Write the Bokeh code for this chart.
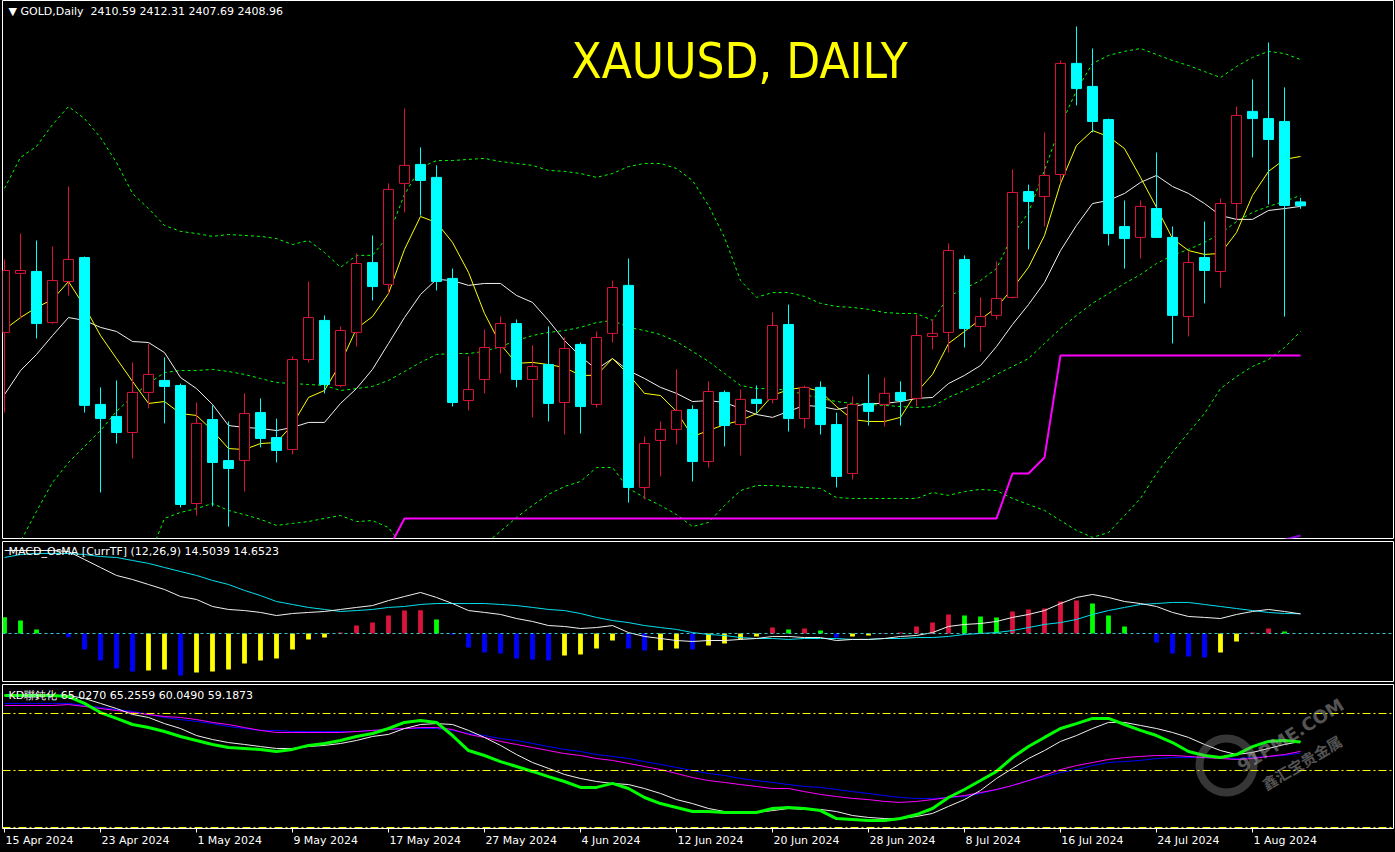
import numpy as np
import pandas as pd
from bokeh.plotting import figure
from bokeh.layouts import column
from bokeh.models import ColumnDataSource, Range1d, Label, FixedTicker, Span
from bokeh.embed import file_html
from bokeh.resources import INLINE

# ---------------- data ----------------
dates = pd.bdate_range("2024-04-15", "2024-08-06")          # 82 daily bars
tick_bars = [0, 6, 12, 18, 24, 30, 36, 42, 48, 54, 60, 66, 72, 78]
tick_labels = ["15 Apr 2024", "23 Apr 2024", "1 May 2024", "9 May 2024", "17 May 2024",
               "27 May 2024", "4 Jun 2024", "12 Jun 2024", "20 Jun 2024", "28 Jun 2024",
               "8 Jul 2024", "16 Jul 2024", "24 Jul 2024", "1 Aug 2024"]

opens = [2356.2, 2380.8, 2381.6, 2360.3, 2377.4, 2387.4, 2326.2, 2321.2, 2314.5, 2331.2,
         2336.2, 2334.1, 2284.9, 2319.9, 2302.8, 2302.8, 2322.8, 2312.4, 2307.4, 2344.9,
         2361.2, 2334.1, 2356.2, 2385.3, 2376.2, 2418.3, 2426.2, 2420.8, 2378.7, 2327.8,
         2336.6, 2349.9, 2359.9, 2336.6, 2342.8, 2327.0, 2351.2, 2326.2, 2355.8, 2375.8,
         2291.6, 2311.2, 2315.8, 2324.1, 2302.4, 2331.2, 2317.8, 2328.3, 2328.3, 2359.5,
         2320.3, 2333.3, 2317.8, 2297.4, 2326.6, 2326.2, 2331.2, 2328.7, 2354.5, 2356.2,
         2386.6, 2358.7, 2363.3, 2370.8, 2414.9, 2412.8, 2422.0, 2468.3, 2458.7, 2444.9,
         2400.3, 2395.8, 2407.8, 2395.8, 2362.8, 2387.4, 2381.6, 2409.9, 2448.3, 2445.3,
         2444.1, 2410.59]
highs = [2386.6, 2397.4, 2394.5, 2392.0, 2417.0, 2387.8, 2333.3, 2336.2, 2343.7, 2351.6,
         2345.8, 2334.9, 2327.0, 2325.8, 2319.1, 2330.8, 2328.7, 2320.3, 2346.2, 2377.4,
         2363.3, 2358.7, 2389.1, 2396.6, 2418.3, 2449.5, 2433.3, 2425.8, 2382.8, 2346.2,
         2357.4, 2362.8, 2361.6, 2350.8, 2358.7, 2354.1, 2352.0, 2356.6, 2377.8, 2387.0,
         2312.8, 2319.1, 2340.8, 2325.8, 2335.8, 2332.0, 2332.4, 2334.1, 2364.5, 2367.8,
         2334.0, 2335.8, 2322.8, 2329.5, 2338.7, 2337.4, 2335.8, 2363.7, 2361.6, 2393.3,
         2388.3, 2370.8, 2385.8, 2424.1, 2417.8, 2439.5, 2469.5, 2483.7, 2474.5, 2445.3,
         2411.2, 2411.2, 2431.2, 2400.3, 2389.9, 2402.4, 2412.0, 2450.3, 2461.6, 2477.0,
         2458.3, 2412.31]
lows = [2322.8, 2362.0, 2353.7, 2359.8, 2371.6, 2322.8, 2289.5, 2309.9, 2303.7, 2324.5,
        2318.3, 2283.3, 2279.9, 2283.7, 2275.3, 2289.9, 2308.3, 2302.0, 2305.3, 2343.7,
        2330.8, 2333.3, 2350.3, 2369.5, 2372.4, 2406.2, 2404.9, 2373.7, 2325.3, 2323.7,
        2330.8, 2339.1, 2333.3, 2320.8, 2319.1, 2313.7, 2314.1, 2324.9, 2352.0, 2285.3,
        2286.6, 2296.2, 2309.5, 2294.1, 2299.9, 2308.7, 2304.9, 2322.4, 2326.6, 2314.9,
        2316.2, 2313.7, 2291.6, 2294.9, 2317.4, 2317.0, 2317.4, 2325.3, 2349.1, 2347.8,
        2349.9, 2348.3, 2361.6, 2370.3, 2390.8, 2400.3, 2419.1, 2450.8, 2439.5, 2392.4,
        2382.8, 2387.0, 2395.5, 2351.6, 2354.5, 2368.3, 2374.9, 2402.8, 2429.1, 2409.5,
        2362.8, 2407.69]
closes = [2382.0, 2382.0, 2359.9, 2377.8, 2386.6, 2325.8, 2320.3, 2314.5, 2331.2, 2338.7,
          2333.7, 2284.5, 2318.3, 2302.0, 2299.5, 2322.4, 2312.0, 2307.0, 2344.9, 2362.4,
          2334.5, 2357.0, 2384.9, 2375.3, 2415.8, 2425.8, 2419.5, 2377.4, 2327.0, 2332.4,
          2349.9, 2359.9, 2336.6, 2342.0, 2326.6, 2349.5, 2325.3, 2354.1, 2374.9, 2291.6,
          2309.9, 2315.8, 2323.7, 2302.4, 2331.6, 2317.4, 2328.3, 2326.6, 2359.1, 2320.3,
          2333.3, 2317.8, 2296.2, 2326.2, 2323.3, 2330.8, 2327.8, 2354.9, 2355.8, 2390.3,
          2357.8, 2362.8, 2370.3, 2414.5, 2410.8, 2421.6, 2468.3, 2457.8, 2444.1, 2397.4,
          2395.3, 2408.7, 2395.8, 2363.3, 2385.3, 2382.0, 2409.9, 2446.6, 2445.3, 2436.6,
          2409.1, 2408.96]

ma5 = [2357.4, 2362.4, 2366.6, 2369.9, 2377.4, 2367.0, 2354.9, 2345.3, 2335.8, 2326.6,
       2327.4, 2322.4, 2321.6, 2315.3, 2307.8, 2307.4, 2309.9, 2310.3, 2317.8, 2329.1,
       2332.0, 2343.3, 2357.8, 2362.8, 2372.4, 2390.8, 2404.5, 2402.0, 2393.7, 2381.2,
       2364.1, 2351.2, 2343.3, 2343.7, 2342.8, 2341.6, 2338.3, 2338.3, 2345.3, 2338.7,
       2330.8, 2329.9, 2323.3, 2312.8, 2315.3, 2317.8, 2319.5, 2322.4, 2329.9, 2332.4,
       2333.3, 2331.6, 2325.3, 2319.9, 2319.1, 2319.1, 2320.8, 2331.2, 2338.7, 2351.6,
       2356.6, 2361.6, 2366.6, 2374.5, 2383.3, 2396.6, 2418.3, 2434.1, 2440.3, 2437.8,
       2432.8, 2420.8, 2408.3, 2395.3, 2390.3, 2388.7, 2389.1, 2397.8, 2413.3, 2423.3,
       2428.3, 2429.5]
ma10 = [2330.3, 2340.3, 2347.0, 2354.9, 2362.4, 2361.2, 2358.3, 2356.6, 2352.4, 2352.0,
        2347.8, 2337.4, 2332.8, 2326.2, 2317.4, 2316.6, 2316.2, 2315.3, 2316.6, 2318.7,
        2318.7, 2326.6, 2332.8, 2340.8, 2351.6, 2362.4, 2372.0, 2378.3, 2377.8, 2375.8,
        2376.6, 2376.6, 2371.6, 2368.7, 2361.2, 2352.8, 2346.2, 2340.8, 2345.3, 2340.3,
        2337.0, 2333.3, 2330.8, 2327.4, 2327.8, 2327.0, 2324.5, 2322.0, 2320.8, 2323.3,
        2325.8, 2325.3, 2324.1, 2325.3, 2326.6, 2326.6, 2327.4, 2328.7, 2329.1, 2334.9,
        2338.3, 2342.4, 2350.3, 2359.5, 2367.8, 2377.0, 2390.3, 2400.8, 2409.9, 2411.2,
        2414.1, 2418.7, 2421.6, 2417.0, 2414.1, 2409.9, 2404.9, 2403.3, 2403.3, 2407.0,
        2407.8, 2408.7]
bb_upper = [2416.2, 2429.1, 2433.7, 2442.8, 2450.3, 2445.3, 2437.4, 2427.0, 2414.1, 2407.8,
            2400.8, 2398.3, 2397.4, 2396.2, 2397.0, 2396.6, 2396.2, 2395.3, 2392.8, 2394.5,
            2389.5, 2383.3, 2388.3, 2388.3, 2396.6, 2413.7, 2424.9, 2427.8, 2427.8, 2428.3,
            2428.7, 2427.4, 2426.6, 2425.8, 2423.7, 2423.3, 2422.4, 2420.8, 2422.4, 2425.3,
            2426.6, 2426.6, 2424.5, 2419.5, 2409.1, 2395.8, 2377.8, 2370.8, 2372.8, 2372.8,
            2371.2, 2368.3, 2367.0, 2366.6, 2365.8, 2364.5, 2364.1, 2364.1, 2361.2, 2371.2,
            2374.5, 2377.8, 2382.8, 2396.6, 2406.2, 2423.7, 2442.4, 2457.0, 2468.3, 2471.6,
            2473.3, 2474.5, 2472.0, 2469.5, 2467.4, 2464.9, 2462.4, 2467.0, 2470.8, 2473.3,
            2472.4, 2469.9]
bb_mid = [2256.6, 2269.1, 2281.6, 2293.7, 2302.0, 2308.7, 2315.3, 2323.3, 2329.5, 2334.9,
          2339.5, 2340.3, 2340.3, 2340.8, 2339.9, 2338.7, 2337.0, 2335.3, 2334.9, 2334.5,
          2334.1, 2332.0, 2332.8, 2333.7, 2336.2, 2339.9, 2343.7, 2347.0, 2347.4, 2347.4,
          2348.3, 2350.3, 2352.8, 2354.9, 2356.2, 2357.0, 2358.3, 2360.3, 2361.2, 2358.3,
          2357.0, 2355.3, 2352.4, 2348.3, 2344.1, 2339.1, 2334.1, 2332.8, 2332.8, 2332.0,
          2330.3, 2328.7, 2327.4, 2326.6, 2326.2, 2325.8, 2325.3, 2324.9, 2325.3, 2329.1,
          2332.0, 2334.9, 2338.7, 2342.0, 2345.3, 2351.6, 2357.8, 2363.3, 2368.3, 2372.4,
          2376.6, 2380.3, 2384.9, 2388.3, 2390.8, 2393.7, 2397.4, 2402.4, 2406.2, 2408.7,
          2410.8, 2413.3]
bb_lower = [2097.0, 2109.1, 2129.5, 2144.5, 2153.7, 2172.0, 2193.3, 2219.5, 2244.9, 2262.0,
            2278.7, 2281.2, 2282.8, 2284.9, 2282.0, 2280.3, 2278.3, 2275.8, 2276.6, 2277.4,
            2278.7, 2279.9, 2277.4, 2277.8, 2274.9, 2266.2, 2262.4, 2266.2, 2267.0, 2266.6,
            2267.8, 2273.3, 2279.1, 2284.1, 2288.7, 2292.0, 2294.1, 2299.9, 2299.9, 2291.2,
            2287.4, 2284.1, 2280.3, 2275.3, 2277.0, 2284.1, 2290.3, 2292.4, 2292.4, 2292.0,
            2291.6, 2291.2, 2287.4, 2287.0, 2287.0, 2287.0, 2287.0, 2287.0, 2289.5, 2288.3,
            2289.9, 2290.8, 2290.3, 2287.0, 2284.5, 2282.0, 2277.8, 2273.7, 2270.8, 2272.8,
            2279.9, 2287.0, 2297.4, 2306.2, 2314.5, 2322.4, 2332.8, 2337.8, 2342.0, 2344.9,
            2349.9, 2356.6]
stop_line = [2266.0] * 25 + [2278.7] * 38 + [2297.4, 2297.4, 2304.1] + [2346.6] * 16
violet_bars = [80, 81]
violet_vals = [2269.8, 2271.6]

macd_main = [61.5, 61.5, 61.5, 61.5, 60.7, 54.8, 48.9, 43.0, 40.0, 36.3,
             32.6, 27.4, 25.2, 20.0, 17.8, 17.0, 15.6, 13.3, 14.8, 15.6,
             16.3, 17.8, 19.3, 20.7, 24.4, 27.4, 30.4, 26.7, 22.2, 17.0,
             15.6, 14.1, 11.1, 8.9, 5.9, 5.2, 3.7, 4.4, 5.9, 0.7,
             -2.2, -3.7, -5.2, -5.9, -5.2, -5.2, -4.4, -3.7, -2.2, -2.2,
             -3.0, -3.0, -5.2, -4.4, -4.4, -3.7, -2.2, -1.5, 0.7, 5.2,
             6.7, 7.4, 8.9, 11.9, 14.1, 17.0, 22.2, 26.7, 28.9, 26.7,
             23.7, 22.2, 20.0, 15.6, 12.6, 11.9, 11.1, 14.1, 16.3, 17.8,
             16.3, 14.5039]
macd_signal = [56.3, 58.5, 59.3, 59.3, 59.3, 58.5, 57.0, 56.3, 54.1, 51.9,
               48.9, 45.9, 43.0, 39.3, 36.3, 31.9, 28.1, 23.7, 21.5, 19.3,
               17.8, 16.3, 17.0, 17.8, 19.3, 20.0, 21.5, 22.2, 22.2, 22.2,
               22.2, 21.5, 20.7, 19.3, 17.8, 17.0, 14.8, 11.9, 9.6, 8.1,
               5.9, 4.4, 3.0, 0.7, -0.7, -1.5, -3.0, -3.7, -3.7, -4.4,
               -3.7, -3.7, -3.7, -4.4, -4.4, -3.7, -3.7, -3.0, -3.0, -2.2,
               -0.7, 0.0, 0.7, 2.2, 4.4, 6.7, 8.1, 10.4, 14.1, 17.0,
               19.3, 21.5, 22.2, 23.0, 23.0, 21.5, 20.0, 18.5, 17.0, 15.6,
               14.8, 14.6523]
osma = [12.1, 9.6, 3.0, -0.4, -2.7, -11.9, -20.0, -25.9, -28.1, -27.4,
        -26.7, -31.1, -28.9, -28.1, -26.7, -22.2, -20.0, -18.5, -11.9, -4.4,
        -3.0, 0.7, 5.9, 8.1, 13.3, 17.0, 17.2, 10.4, -0.7, -10.4,
        -14.1, -14.8, -18.5, -19.3, -20.0, -16.3, -15.6, -11.1, -5.2, -11.1,
        -12.6, -12.4, -11.1, -11.9, -8.9, -7.4, -4.4, -2.2, 4.4, 3.0,
        3.7, 2.2, -3.0, -2.2, -1.5, 0.4, 0.7, 5.2, 8.1, 14.1,
        13.3, 12.6, 11.9, 16.3, 17.8, 18.5, 23.7, 24.4, 22.2, 13.3,
        5.2, -0.2, -6.7, -14.8, -17.0, -17.8, -14.1, -5.9, 0.7, 3.7,
        1.5, -0.1]
osma_state = list("gggbbbbbbyybyyyyyyyyyrrrrrrgbbbbbbbyyyybbyybyyyyrgrgbyyrrrrrgggrrrrrgggbbbbbyyrrgb")

kd_green = [89.5, 89.5, 89.5, 89.5, 88.9, 85.3, 80.5, 77.4, 74.2, 72.6,
            70.5, 67.9, 65.8, 63.7, 62.1, 61.6, 61.1, 60.0, 61.1, 63.2,
            64.2, 65.8, 67.9, 69.5, 72.1, 75.3, 76.3, 75.3, 68.4, 60.5,
            57.9, 54.7, 52.1, 49.5, 46.8, 44.2, 41.1, 41.1, 43.2, 40.5,
            35.8, 32.6, 30.5, 28.4, 28.4, 27.9, 27.9, 27.9, 30.0, 30.5,
            30.0, 28.9, 24.7, 24.2, 23.7, 23.7, 24.7, 26.8, 30.0, 35.8,
            40.0, 44.7, 49.5, 56.8, 62.6, 67.4, 72.1, 74.7, 77.4, 77.4,
            74.2, 71.1, 68.4, 64.7, 60.0, 57.9, 56.8, 58.4, 62.6, 65.3,
            65.8, 65.027]
kd_white = [89.5, 89.5, 89.5, 89.5, 89.5, 87.9, 85.3, 82.6, 79.5, 77.9,
            74.7, 72.1, 68.4, 66.3, 64.7, 63.7, 62.6, 61.6, 61.6, 62.6,
            63.2, 64.2, 65.8, 67.9, 69.0, 72.1, 74.2, 74.7, 74.2, 71.1,
            67.4, 63.2, 58.4, 54.2, 51.1, 47.9, 45.8, 44.2, 43.2, 42.6,
            40.5, 37.9, 34.7, 32.6, 30.0, 28.4, 27.9, 27.9, 28.9, 30.0,
            29.5, 29.5, 28.4, 26.3, 25.3, 24.7, 24.7, 25.8, 27.4, 31.1,
            34.7, 39.5, 45.8, 51.1, 56.3, 60.5, 65.3, 68.4, 72.1, 75.3,
            75.3, 73.7, 72.1, 70.0, 67.4, 63.7, 60.5, 58.4, 59.5, 61.6,
            63.7, 65.2559]
kd_magenta = [84.2, 84.2, 84.2, 84.2, 84.7, 83.7, 82.6, 81.6, 80.5, 79.5,
              78.4, 77.9, 76.8, 75.3, 74.2, 72.6, 71.1, 70.0, 70.0, 70.0,
              70.0, 70.0, 70.5, 71.1, 71.6, 72.1, 72.6, 72.6, 71.6, 69.0,
              67.4, 65.3, 63.7, 62.1, 60.5, 58.9, 57.9, 56.3, 55.3, 53.7,
              52.1, 50.5, 48.4, 46.3, 44.7, 43.7, 42.6, 41.6, 40.5, 40.5,
              38.9, 37.4, 36.3, 35.3, 34.7, 33.7, 33.2, 33.7, 34.7, 35.8,
              36.8, 38.4, 40.0, 42.1, 44.7, 47.4, 50.5, 52.6, 54.2, 55.8,
              56.8, 57.4, 57.9, 57.9, 57.4, 56.8, 56.3, 55.8, 56.3, 57.4,
              58.4, 60.049]
kd_blue = [85.3, 85.3, 85.3, 85.3, 85.3, 84.2, 83.2, 82.1, 81.1, 79.5,
           77.9, 76.8, 75.8, 74.7, 73.2, 72.1, 71.1, 71.1, 70.5, 70.5,
           70.5, 70.5, 70.5, 71.1, 71.6, 72.1, 72.1, 72.1, 71.1, 69.5,
           68.4, 66.8, 65.8, 64.2, 62.6, 61.1, 60.0, 58.4, 57.4, 56.3,
           54.7, 53.2, 51.6, 50.0, 48.4, 47.4, 45.8, 44.7, 43.7, 42.6,
           41.6, 41.1, 40.0, 38.9, 37.9, 36.8, 35.8, 35.3, 35.3, 35.8,
           36.3, 37.9, 40.0, 42.1, 44.7, 46.8, 48.9, 50.5, 52.6, 54.2,
           54.7, 55.3, 56.3, 56.8, 56.8, 56.8, 56.8, 56.3, 56.8, 57.4,
           57.9, 59.1873]
kd_levels = [80, 50, 20]

# ---------------- layout (1:1 with the 1395x852 window) ----------------
W = 1395
H1, H2, H3 = 540, 143, 169
FONT = "DejaVu Sans"
bars = np.arange(len(dates))
PX_PER_BAR = 16.0
xr = Range1d((2 - 4) / PX_PER_BAR, (1393 - 4) / PX_PER_BAR)


def pane(h, y0, y1, mbt, mbb, xloc=None):
    p = figure(width=W, height=h, x_range=xr, y_range=Range1d(y0, y1),
               x_axis_location=xloc, y_axis_location=None,
               output_backend="svg", toolbar_location=None,
               min_border_left=2, min_border_right=2,
               min_border_top=mbt, min_border_bottom=mbb,
               background_fill_color="black", border_fill_color="black",
               outline_line_color="white", outline_line_width=1)
    p.xgrid.visible = False
    p.ygrid.visible = False
    return p


# ---------------- main pane ----------------
p1 = pane(H1, 2270.33, 2494.5, 0, 2)
dash = "3 3"
for arr in (bb_upper, bb_mid, bb_lower):
    p1.line(bars, arr, line_color="#00ff00", line_width=1, line_dash=dash)
p1.line(bars, stop_line, line_color="#ff00ff", line_width=2)
p1.line(violet_bars, violet_vals, line_color="#8a00e0", line_width=2)
p1.line(bars, ma10, line_color="#f0f0f0", line_width=1)
p1.line(bars, ma5, line_color="#ffff00", line_width=1)

o = np.array(opens); c = np.array(closes); hi = np.array(highs); lo = np.array(lows)
up = c >= o
src_up = ColumnDataSource(dict(x=bars[up], top=c[up], bot=o[up], hi=hi[up], lo=lo[up]))
src_dn = ColumnDataSource(dict(x=bars[~up], top=o[~up], bot=c[~up], hi=hi[~up], lo=lo[~up]))
RED, CYAN = "#dc143c", "#00ffff"
p1.segment("x", "lo", "x", "hi", source=src_up, line_color=RED, line_width=1)
p1.segment("x", "lo", "x", "hi", source=src_dn, line_color=CYAN, line_width=1)
p1.vbar(x="x", width=0.62, top="top", bottom="bot", source=src_up,
        fill_color="black", line_color=RED, line_width=1)
p1.vbar(x="x", width=0.62, top="top", bottom="bot", source=src_dn,
        fill_color=CYAN, line_color=CYAN, line_width=1)

p1.add_layout(Label(x=0.25, y=2492.8, text="\u25bc GOLD,Daily\u00a0\u00a02410.59 2412.31 2407.69 2408.96",
                    text_color="white", text_font=FONT, text_font_size="11px",
                    text_baseline="top"))
p1.add_layout(Label(x=45.94, y=2469.1, text="XAUUSD, DAILY", text_color="#ffff00",
                    text_font="DejaVu Sans Condensed", text_font_size="49px",
                    text_align="center", text_baseline="middle"))

# ---------------- MACD pane ----------------
p2 = pane(H2, -35.56, 68.15, 1, 2)
p2.add_layout(Span(location=0, dimension="width", line_color="#40c8c8",
                   line_dash="3 3", line_width=1))
cmap = {"g": "#00ff00", "r": "#dc143c", "b": "#0000ff", "y": "#ffff00"}
src_h = ColumnDataSource(dict(x=bars, top=osma, col=[cmap[s] for s in osma_state]))
p2.vbar(x="x", width=0.3, top="top", bottom=0, source=src_h, fill_color="col", line_color=None)
p2.line(bars, macd_signal, line_color="#00e0f0", line_width=1)
p2.line(bars, macd_main, line_color="#f0f0f0", line_width=1)
p2.add_layout(Label(x=0.25, y=65.2, text="MACD_OsMA [CurrTF] (12,26,9) 14.5039 14.6523",
                    text_color="white", text_font=FONT, text_font_size="11px",
                    text_baseline="top"))

# ---------------- KD pane ----------------
p3 = pane(H3, 19.47, 95.26, 1, 24, xloc="below")
for lv in kd_levels:
    p3.add_layout(Span(location=lv, dimension="width", line_color="#ffff00",
                       line_dash="8 3 2 3", line_width=1))
p3.line(bars, kd_blue, line_color="#0000ff", line_width=1)
p3.line(bars, kd_magenta, line_color="#ff00ff", line_width=1)
p3.line(bars, kd_white, line_color="#f0f0f0", line_width=1)
p3.line(bars, kd_green, line_color="#00ff00", line_width=3)
p3.add_layout(Label(x=0.25, y=93.0, text="KD聯鈍化 65.0270 65.2559 60.0490 59.1873",
                    text_color="white", text_font=FONT, text_font_size="11px",
                    text_baseline="top"))


# watermark (91PME logo), kept well inside the pane
def kd_px(px, py):
    return (px - 4) / PX_PER_BAR, 50 + (770 - py) / 1.9


wx, wy = kd_px(1226, 765)
p3.scatter([wx], [wy], size=54, marker="circle", fill_color=None,
           line_color="#9a9a9a", line_width=8, line_alpha=0.35)
lx, ly = kd_px(1244, 776)
p3.add_layout(Label(x=lx, y=ly, text="91PME.COM", text_color="#a8a8a8", text_alpha=0.5,
                    text_font="DejaVu Sans", text_font_style="bold",
                    text_font_size="18px", angle=0.56))
cx, cy = kd_px(1268, 794)
p3.add_layout(Label(x=cx, y=cy, text="鑫汇宝贵金属", text_color="#a8a8a8", text_alpha=0.5,
                    text_font="Noto Sans CJK SC", text_font_style="bold",
                    text_font_size="15px", angle=0.54))

# date axis: labels start at the tick, so centre them to its right
cw = {" ": 0.318, "A": 0.684, "p": 0.635, "r": 0.411, "M": 0.863, "a": 0.613, "y": 0.592,
      "J": 0.295, "u": 0.634, "n": 0.634, "l": 0.278, "g": 0.635}
centres = []
for b, lab in zip(tick_bars, tick_labels):
    wpx = sum(cw.get(ch, 0.636) for ch in lab) * 11
    cpos = b + (wpx / 2 + 1) / PX_PER_BAR
    centres.append(round(cpos * 64) / 64)
ax = p3.xaxis[0]
ax.ticker = FixedTicker(ticks=centres, minor_ticks=tick_bars)
ax.major_label_overrides = {cpos: lab for cpos, lab in zip(centres, tick_labels)}
ax.major_tick_line_color = None
ax.major_tick_in = 0
ax.major_tick_out = 0
ax.minor_tick_line_color = "white"
ax.minor_tick_in = 0
ax.minor_tick_out = 4
ax.axis_line_color = None
ax.major_label_standoff = 1
ax.major_label_text_color = "white"
ax.major_label_text_font = FONT
ax.major_label_text_font_size = "11px"

layout = column(p1, p2, p3, spacing=0, background="black")
open("out.html", "w").write(file_html(layout, INLINE))
